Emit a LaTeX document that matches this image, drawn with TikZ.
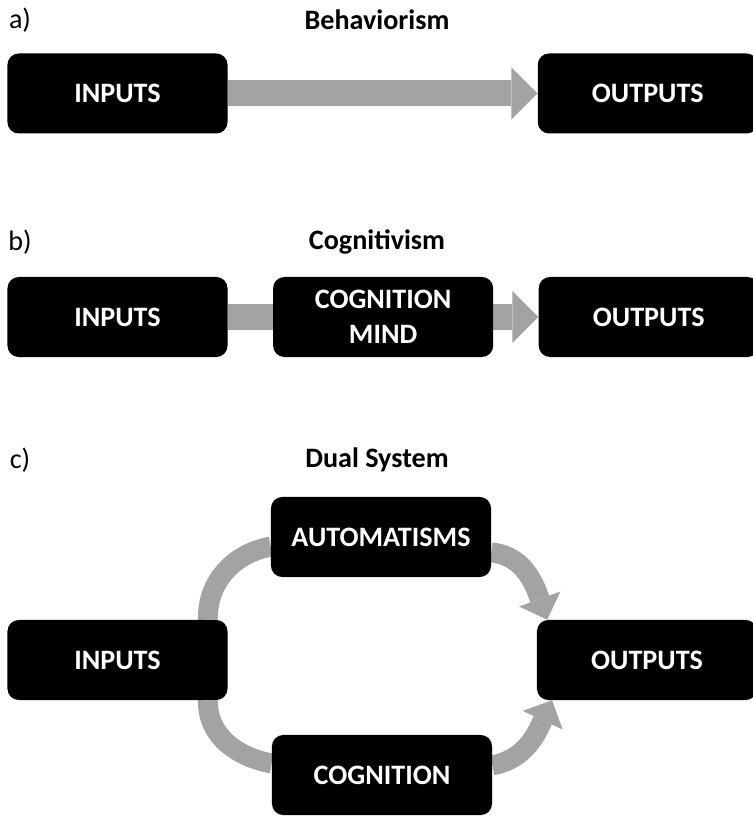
\documentclass[tikz,border=0pt]{standalone}
\usepackage{fontspec}
\setmainfont{Carlito}
\usepackage{xcolor}
\usetikzlibrary{arrows.meta, positioning, backgrounds}
\definecolor{arrgray}{RGB}{163,163,163}
\tikzset{
  box/.style={
    rectangle, rounded corners=8pt,
    minimum width=5.5cm, minimum height=2cm, inner sep=0pt,
    fill=black, text=white, align=center,
    font=\fontsize{20}{25}\selectfont\bfseries
  },
  title/.style = {font=\fontsize{20}{24}\selectfont\bfseries},
  tag/.style   = {font=\fontsize{20}{24}\selectfont},
  arr/.style   = {draw=arrgray, line width=0.65cm,
                  -{Triangle[length=0.65cm, width=1.3cm, line width=0pt]}},
  ring/.style  = {draw=arrgray, line width=0.5cm},
  ringarr/.style = {ring, -{Triangle[length=0.55cm, width=1.1cm, line width=0pt]}},
}

\begin{document}
\begin{tikzpicture}[x=0.025cm, y=0.025cm]
  \useasboundingbox (0,0) rectangle (753,819);

  % a) Behaviorism
  \node[tag]   (taga) at (20,799)  {a)};
  \node[title] (tita) at (377,799) {Behaviorism};
  \node[box] (ina) at (117.5,725.5) {INPUTS};
  \node[box, right=7.74cm of ina] (outa) {OUTPUTS};

  % b) Cognitivism
  \node[tag]   (tagb) at (20,577)  {b)};
  \node[title] (titb) at (377,577) {Cognitivism};
  \node[box] (inb) at (117.5,502) {INPUTS};
  \node[box, right=1.125cm of inb] (cogb) {COGNITION\\MIND};
  \node[box, right=1.125cm of cogb] (outb) {OUTPUTS};

  % c) Dual System
  \node[tag]   (tagc) at (20,359)  {c)};
  \node[title] (titc) at (377,359) {Dual System};
  \node[box] (autc) at (381,282)   {AUTOMATISMS};
  \node[box] (inc)  at (117.5,159) {INPUTS};
  \node[box] (outc) at (647,159)   {OUTPUTS};
  \node[box] (cogc) at (382,44)    {COGNITION};

  % Arrows
  \begin{scope}[on background layer]
    \draw[arr] (ina) -- (outa);
    \draw[arr] (inb) -- (outb);
    \draw[ring] (inc.24) to[out=92, in=190] (autc.185);
    \draw[ringarr] (autc.-8) to[out=-5, in=110] (outc.158);
    \draw[ring] (inc.-24) to[out=-92, in=170] (cogc.174);
    \draw[ringarr] (cogc.5) to[out=10, in=-115] (outc.203);
  \end{scope}

\end{tikzpicture}
\end{document}
